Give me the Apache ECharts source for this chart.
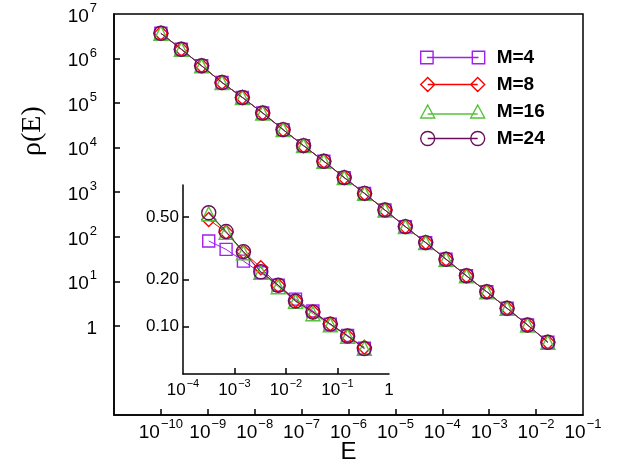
<!DOCTYPE html>
<html>
<head>
<meta charset="utf-8">
<script src="https://cdn.jsdelivr.net/npm/echarts@6/dist/echarts.min.js"></script>
<style>html,body{margin:0;padding:0;background:#fff;}#c{width:637px;height:476px;}</style>
</head>
<body>
<div id="c"></div>
<script>
// ---- data ----
const seriesNames = ['M=4', 'M=8', 'M=16', 'M=24'];
const mainE = [1e-10, 2.72e-10, 7.39e-10, 2.01e-9, 5.46e-9, 1.48e-8, 4.03e-8, 1.10e-7, 2.98e-7, 8.10e-7,
               2.20e-6, 5.99e-6, 1.63e-5, 4.42e-5, 1.20e-4, 3.27e-4, 8.89e-4, 2.41e-3, 6.57e-3, 1.78e-2];
const mainRhoM4  = [3.70e6, 1.62e6, 6.87e5, 2.90e5, 1.34e5, 6.01e4, 2.54e4, 1.11e4, 4.97e3, 2.13e3, 9.4e2, 3.98e2, 1.69e2, 74.1, 31.4, 13.3, 5.82, 2.48, 1.05, 0.43];
const mainRhoM8  = [3.70e6, 1.62e6, 6.87e5, 2.90e5, 1.34e5, 6.01e4, 2.54e4, 1.11e4, 4.97e3, 2.13e3, 9.4e2, 3.98e2, 1.69e2, 74.1, 31.4, 13.3, 5.82, 2.48, 1.05, 0.43];
const mainRhoM16 = [3.70e6, 1.62e6, 6.87e5, 2.90e5, 1.34e5, 6.01e4, 2.54e4, 1.11e4, 4.97e3, 2.13e3, 9.4e2, 3.98e2, 1.69e2, 74.1, 31.4, 13.3, 5.82, 2.48, 1.05, 0.43];
const mainRhoM24 = [3.70e6, 1.62e6, 6.87e5, 2.90e5, 1.34e5, 6.01e4, 2.54e4, 1.11e4, 4.97e3, 2.13e3, 9.4e2, 3.98e2, 1.69e2, 74.1, 31.4, 13.3, 5.82, 2.48, 1.05, 0.43];
const insetE = [3.16e-4, 6.87e-4, 1.49e-3, 3.24e-3, 7.05e-3, 1.53e-2, 3.33e-2, 7.24e-2, 0.157, 0.332];
const insetRhoM4  = [0.352, 0.311, 0.262, 0.221, 0.184, 0.150, 0.126, 0.104, 0.088, 0.073];
const insetRhoM8  = [0.483, 0.400, 0.300, 0.238, 0.183, 0.147, 0.124, 0.104, 0.087, 0.074];
const insetRhoM16 = [0.525, 0.400, 0.296, 0.222, 0.180, 0.145, 0.121, 0.103, 0.087, 0.073];
const insetRhoM24 = [0.533, 0.404, 0.301, 0.224, 0.184, 0.146, 0.124, 0.104, 0.0874, 0.0726];
const mainXTicks = [1e-10, 1e-9, 1e-8, 1e-7, 1e-6, 1e-5, 1e-4, 1e-3, 1e-2, 1e-1];
const mainYTicks = [1, 10, 100, 1e3, 1e4, 1e5, 1e6, 1e7];
const insetXTicks = [1e-4, 1e-3, 1e-2, 1e-1, 1];
const insetYTicks = [0.1, 0.2, 0.5];

// ---- styling ----
const colors = ['#a020f0', '#ff0000', '#55c23c', '#6a0f5c'];
const symbols = ['rect', 'diamond', 'triangle', 'circle'];
const symSizes = [12, 14, 14, 14];
const legendIcons = [
  'path://M1,1h12v12h-12zM7,7H57M51,1h12v12h-12z',
  'path://M0,7L7,0L14,7L7,14zM7,7H57M50,7L57,0L64,7L57,14z',
  'path://M7,0L14,13H0zM7,9H57M57,0L64,13H50z',
  'path://M0,7A7,7,0,1,0,14,7A7,7,0,1,0,0,7zM7,7H57M50,7A7,7,0,1,0,64,7A7,7,0,1,0,50,7z'
];
const mainRho = [mainRhoM4, mainRhoM8, mainRhoM16, mainRhoM24];
const insetRho = [insetRhoM4, insetRhoM8, insetRhoM16, insetRhoM24];
const FONT = 'Liberation Sans, Arial, sans-serif';

function powLabel(prefix) {
  return function (v) {
    const e = Math.round(Math.log10(v));
    if (e === 0) return '{' + prefix + 'b|1}';
    return '{' + prefix + 'b|10}{' + prefix + 's|' + (e < 0 ? '\u2212' + (-e) : e) + '}';
  };
}
const richMain = {
  mb: {fontSize: 19, fontFamily: FONT, color: '#000', lineHeight: 24, verticalAlign: 'bottom'},
  ms: {fontSize: 13, fontFamily: FONT, color: '#000', lineHeight: 13, verticalAlign: 'top', padding: [0, 0, 0, 1]}
};
const richInset = {
  ib: {fontSize: 17, fontFamily: FONT, color: '#000', lineHeight: 21, verticalAlign: 'bottom'},
  is: {fontSize: 11, fontFamily: FONT, color: '#000', lineHeight: 11, verticalAlign: 'top', padding: [0, 0, 0, 1]}
};
const axisLine = {show: true, lineStyle: {color: '#000', width: 1.5}};

const series = [];
for (let i = 0; i < 4; i++) {
  const base = {
    name: seriesNames[i], type: 'line', symbol: symbols[i], symbolSize: symSizes[i],
    itemStyle: {color: 'rgba(0,0,0,0)', borderColor: colors[i], borderWidth: 1.4},
    lineStyle: {color: colors[i], width: 1}, animation: false, z: 2 + i
  };
  series.push(Object.assign({}, base, {xAxisIndex: 0, yAxisIndex: 0,
    data: mainE.map((x, k) => [x, mainRho[i][k]])}));
  series.push(Object.assign({}, base, {xAxisIndex: 1, yAxisIndex: 1,
    data: insetE.map((x, k) => [x, insetRho[i][k]])}));
}

const option = {
  animation: false,
  backgroundColor: '#fff',
  grid: [
    {left: 114, top: 14, width: 469, height: 401, show: true, borderColor: '#000', borderWidth: 1.5, backgroundColor: 'rgba(0,0,0,0)'},
    {left: 183, top: 185, width: 206, height: 189, show: false}
  ],
  xAxis: [
    {type: 'log', gridIndex: 0, min: 1e-11, max: 1e-1, logBase: 10,
     axisLine: axisLine, splitLine: {show: false},
     axisTick: {show: true, inside: true, length: 6, lineStyle: {color: '#000', width: 1.5}, customValues: mainXTicks.slice(0, 9)},
     axisLabel: {customValues: mainXTicks, formatter: powLabel('m'), rich: richMain, margin: 3, showMinLabel: true, showMaxLabel: true},
     name: 'E', nameLocation: 'middle', nameGap: 25, nameMoveOverlap: false,
     nameTextStyle: {fontSize: 24, fontFamily: FONT, color: '#000'}},
    {type: 'log', gridIndex: 1, min: 1e-4, max: 1, logBase: 10,
     axisLine: axisLine, splitLine: {show: false},
     axisTick: {show: true, inside: true, length: 6, lineStyle: {color: '#000', width: 1.5}, customValues: insetXTicks.slice(1, 4)},
     axisLabel: {customValues: insetXTicks, formatter: powLabel('i'), rich: richInset, margin: 4}}
  ],
  yAxis: [
    {type: 'log', gridIndex: 0, min: 1e-2, max: 1e7, logBase: 10,
     axisLine: axisLine, splitLine: {show: false},
     axisTick: {show: true, inside: true, length: 6, lineStyle: {color: '#000', width: 1.5}, customValues: mainYTicks.slice(0, 7)},
     axisLabel: {customValues: mainYTicks, formatter: powLabel('m'), rich: richMain, margin: 17}},
    {type: 'log', gridIndex: 1, min: 0.05, max: 0.8, logBase: 10,
     axisLine: axisLine, splitLine: {show: false},
     axisTick: {show: true, inside: true, length: 6, lineStyle: {color: '#000', width: 1.5}, customValues: insetYTicks},
     axisLabel: {customValues: insetYTicks, formatter: v => v.toFixed(2), fontSize: 17, fontFamily: FONT, color: '#000', margin: 4}}
  ],
  legend: {
    orient: 'vertical', left: 415, top: 43, itemWidth: 64, itemHeight: 14, itemGap: 8,
    textStyle: {fontSize: 19, fontWeight: 'bold', fontFamily: FONT, color: '#000', padding: [0, 0, 0, 7]},
    data: seriesNames.map((n, i) => ({name: n, icon: legendIcons[i],
      itemStyle: {color: 'rgba(0,0,0,0)', borderColor: colors[i], borderWidth: 1.4}}))
  },
  graphic: [
    {type: 'text', x: 19, y: 156, rotation: Math.PI / 2, origin: [0, 0],
     style: {text: '\u03C1(E)', font: '28px "Liberation Serif", "Times New Roman", serif', fill: '#000', textVerticalAlign: 'top'}}
  ],
  series: series
};
const chart = echarts.init(document.getElementById('c'), null, {renderer: 'canvas'});
chart.setOption(option);
</script>
</body>
</html>
